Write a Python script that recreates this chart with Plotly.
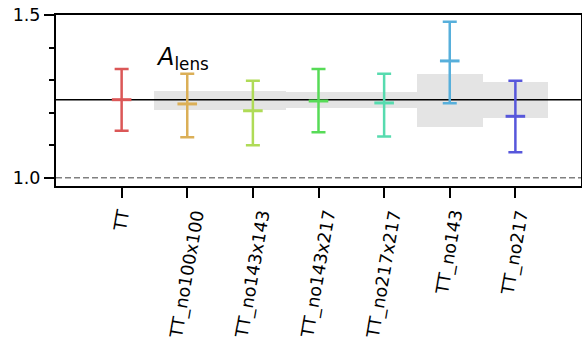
import plotly.graph_objects as go

labels = ["TT", "TT_no100x100", "TT_no143x143", "TT_no143x217",
          "TT_no217x217", "TT_no143", "TT_no217"]
centers = [1.240, 1.227, 1.206, 1.236, 1.230, 1.359, 1.189]
uppers = [1.334, 1.320, 1.298, 1.334, 1.320, 1.479, 1.298]
lowers = [1.145, 1.125, 1.100, 1.140, 1.127, 1.229, 1.079]
colors = ["#db5757", "#dbaf57", "#afdb57", "#57db57", "#57dbaf", "#57afdb", "#5757db"]

band_idx = [1, 2, 3, 4, 5, 6]
band_low = [1.209, 1.209, 1.216, 1.216, 1.157, 1.185]
band_high = [1.268, 1.268, 1.264, 1.264, 1.319, 1.295]

ref_value = centers[0]
null_value = 1.0

fig = go.Figure()

fig.add_trace(go.Bar(
    x=band_idx,
    y=[h - l for h, l in zip(band_high, band_low)],
    base=band_low,
    width=1.0,
    marker=dict(color="rgba(0,0,0,0.105)", line=dict(width=0)),
    showlegend=False,
    hoverinfo="skip",
))

for i, lab in enumerate(labels):
    fig.add_trace(go.Scatter(
        x=[i], y=[centers[i]],
        mode="markers",
        marker=dict(symbol="line-ew", size=14, color=colors[i],
                    line=dict(width=3, color=colors[i])),
        error_y=dict(type="data", symmetric=False,
                     array=[uppers[i] - centers[i]],
                     arrayminus=[centers[i] - lowers[i]],
                     color=colors[i], thickness=2.5, width=7),
        showlegend=False,
        name=lab,
    ))

fig.add_hline(y=ref_value, line=dict(color="black", width=1.5), layer="below")
fig.add_hline(y=null_value, line=dict(color="#808080", width=1.5, dash="6px,3px"), layer="below")

fig.add_annotation(
    x=0.5, y=1.42, xref="x", yref="y",
    text="<i>A</i><sub>lens</sub>",
    showarrow=False, xanchor="left", yanchor="top",
    font=dict(family="DejaVu Sans", size=24, color="black"),
)

# x tick labels: rotated 80 deg, centred under each tick (top aligned)
for i, lab in enumerate(labels):
    fig.add_annotation(
        x=i, y=-0.125, xref="x", yref="paper",
        text=lab, textangle=-80,
        showarrow=False, xanchor="center", yanchor="top",
        borderpad=0,
        font=dict(family="DejaVu Sans", size=17.5, color="black"),
    )

fig.update_layout(
    width=582, height=350,
    margin=dict(l=56, r=1, t=15, b=164, autoexpand=False),
    plot_bgcolor="white", paper_bgcolor="white",
    font=dict(family="DejaVu Sans", size=17.5, color="black"),
    bargap=0,
)
fig.update_xaxes(
    range=[-1, 7],
    automargin=False,
    tickmode="array",
    tickvals=list(range(len(labels))),
    showticklabels=False,
    showline=True, linecolor="black", linewidth=2, mirror=True,
    ticks="outside", ticklen=10, tickwidth=2, tickcolor="black",
    showgrid=False, zeroline=False,
)
fig.update_yaxes(
    range=[0.975, 1.5],
    automargin=False,
    tickmode="linear", tick0=1.0, dtick=0.5,
    tickformat=".1f",
    showline=True, linecolor="black", linewidth=2, mirror=True,
    ticks="outside", ticklen=10, tickwidth=2, tickcolor="black",
    minor=dict(ticks="outside", ticklen=5, tickwidth=1.5, tickcolor="black",
               dtick=0.1, tick0=1.0, showgrid=False),
    showgrid=False, zeroline=False,
)

fig.write_html("out.html",
               config={"displayModeBar": False},
               post_script="document.body.style.margin='0px';document.body.style.overflow='hidden';")
